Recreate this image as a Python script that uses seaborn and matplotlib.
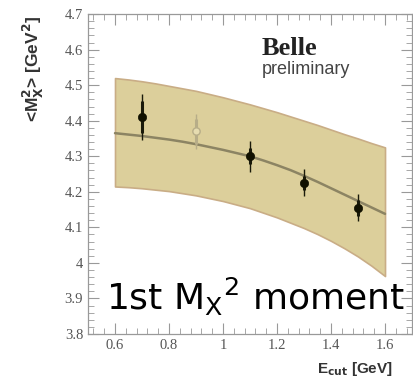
import numpy as np
import pandas as pd
import matplotlib
matplotlib.use("Agg")
import matplotlib.pyplot as plt
from matplotlib.ticker import MultipleLocator
import seaborn as sns

# ---- data ----
band_e = [0.60, 0.65, 0.70, 0.75, 0.80, 0.85, 0.90, 0.95, 1.00, 1.05, 1.10,
          1.15, 1.20, 1.25, 1.30, 1.35, 1.40, 1.45, 1.50, 1.55, 1.60]
band_hi = [4.520, 4.516, 4.511, 4.505, 4.498, 4.491, 4.484, 4.475, 4.466, 4.456, 4.446,
           4.435, 4.424, 4.412, 4.400, 4.388, 4.375, 4.362, 4.350, 4.337, 4.325]
band_mid = [4.365, 4.361, 4.357, 4.352, 4.347, 4.341, 4.334, 4.326, 4.318, 4.309, 4.300,
            4.288, 4.275, 4.261, 4.245, 4.228, 4.210, 4.192, 4.174, 4.156, 4.138]
band_lo = [4.215, 4.213, 4.210, 4.206, 4.202, 4.196, 4.190, 4.182, 4.174, 4.164, 4.154,
           4.141, 4.128, 4.113, 4.098, 4.081, 4.062, 4.041, 4.018, 3.992, 3.963]

pt_e = [0.7, 0.9, 1.1, 1.3, 1.5]
pt_m = [4.41, 4.37, 4.30, 4.225, 4.155]
pt_err_tot = [0.065, 0.05, 0.043, 0.038, 0.038]
pt_err_stat = [0.045, 0.035, 0.022, 0.02, 0.022]
pt_filled = [True, False, True, True, True]

x_ticks = [0.6, 0.8, 1.0, 1.2, 1.4, 1.6]
x_ticklabels = ["0.6", "0.8", "1", "1.2", "1.4", "1.6"]
y_ticks = [3.8, 3.9, 4.0, 4.1, 4.2, 4.3, 4.4, 4.5, 4.6, 4.7]
y_ticklabels = ["3.8", "3.9", "4", "4.1", "4.2", "4.3", "4.4", "4.5", "4.6", "4.7"]

sns.set_style("ticks")

fig = plt.figure(figsize=(4.14, 3.81), dpi=100)
ax = fig.add_axes([0.2126, 0.1234, 0.7826, 0.8396])

band = pd.DataFrame({"E": band_e, "hi": band_hi, "mid": band_mid, "lo": band_lo})
ax.fill_between(band["E"], band["lo"], band["hi"], facecolor="#dccf9b",
                edgecolor="#c9ad86", linewidth=1.2, zorder=1)
sns.lineplot(data=band, x="E", y="mid", ax=ax, color="#8c8463", linewidth=1.8,
             zorder=2, legend=False)

pts = pd.DataFrame({"E": pt_e, "M": pt_m, "tot": pt_err_tot, "stat": pt_err_stat,
                    "filled": pt_filled})
for _, r in pts.iterrows():
    col = "#1a1a0a" if r["filled"] else "#b7ad88"
    ax.errorbar(r["E"], r["M"], yerr=r["tot"], fmt="none", ecolor=col,
                elinewidth=1.0, zorder=3)
    ax.errorbar(r["E"], r["M"], yerr=r["stat"], fmt="none", ecolor=col,
                elinewidth=2.2, zorder=3)
filled = pts[pts["filled"]]
sns.scatterplot(data=filled, x="E", y="M", ax=ax, color="#111100", s=36,
                edgecolor="#111100", zorder=4, legend=False)
open_pts = pts[~pts["filled"]]
ax.scatter(open_pts["E"], open_pts["M"], s=28, facecolor="#e6dcb0",
           edgecolor="#b7ad88", linewidth=1.0, zorder=4)

ax.set_xlim(0.5, 1.7)
ax.set_ylim(3.8, 4.7)
ax.set_xticks(x_ticks)
ax.set_xticklabels(x_ticklabels)
ax.set_yticks(y_ticks)
ax.set_yticklabels(y_ticklabels)
ax.xaxis.set_minor_locator(MultipleLocator(0.04))
ax.yaxis.set_minor_locator(MultipleLocator(0.02))
ax.tick_params(which="both", direction="in", top=True, right=True,
               color="#999999", labelcolor="#555555")
ax.tick_params(which="major", length=8, width=0.8)
ax.tick_params(which="minor", length=4, width=0.6)
for lab in ax.get_xticklabels() + ax.get_yticklabels():
    lab.set_fontfamily("Liberation Serif")
    lab.set_fontsize(10.5)
for s in ax.spines.values():
    s.set_color("#999999")
    s.set_linewidth(0.9)
ax.set_xlabel("")
ax.set_ylabel("")

fig.text(0.08, 0.82, r"<M$_\mathbf{X}^\mathbf{2}$> [GeV$^\mathbf{2}$]", rotation=90,
         ha="center", va="center", fontsize=12.5, fontweight="bold",
         family="Liberation Sans", color="#333333")
fig.text(0.766, 0.022, r"E$_\mathbf{cut}$ [GeV]", ha="left", va="baseline",
         fontsize=11, fontweight="bold", family="Liberation Sans", color="#333333")

fig.text(0.633, 0.855, "Belle", ha="left", va="baseline", fontsize=19,
         fontweight="bold", family="Liberation Serif", color="#222222")
fig.text(0.633, 0.805, "preliminary", ha="left", va="baseline", fontsize=13,
         family="Liberation Sans", color="#444444")

fig.text(0.256, 0.186, r"1st M$_\mathregular{X}$$^\mathregular{2}$ moment",
         ha="left", va="baseline", fontsize=26, family="DejaVu Sans", color="black")

fig.savefig("out.png", dpi=100)
